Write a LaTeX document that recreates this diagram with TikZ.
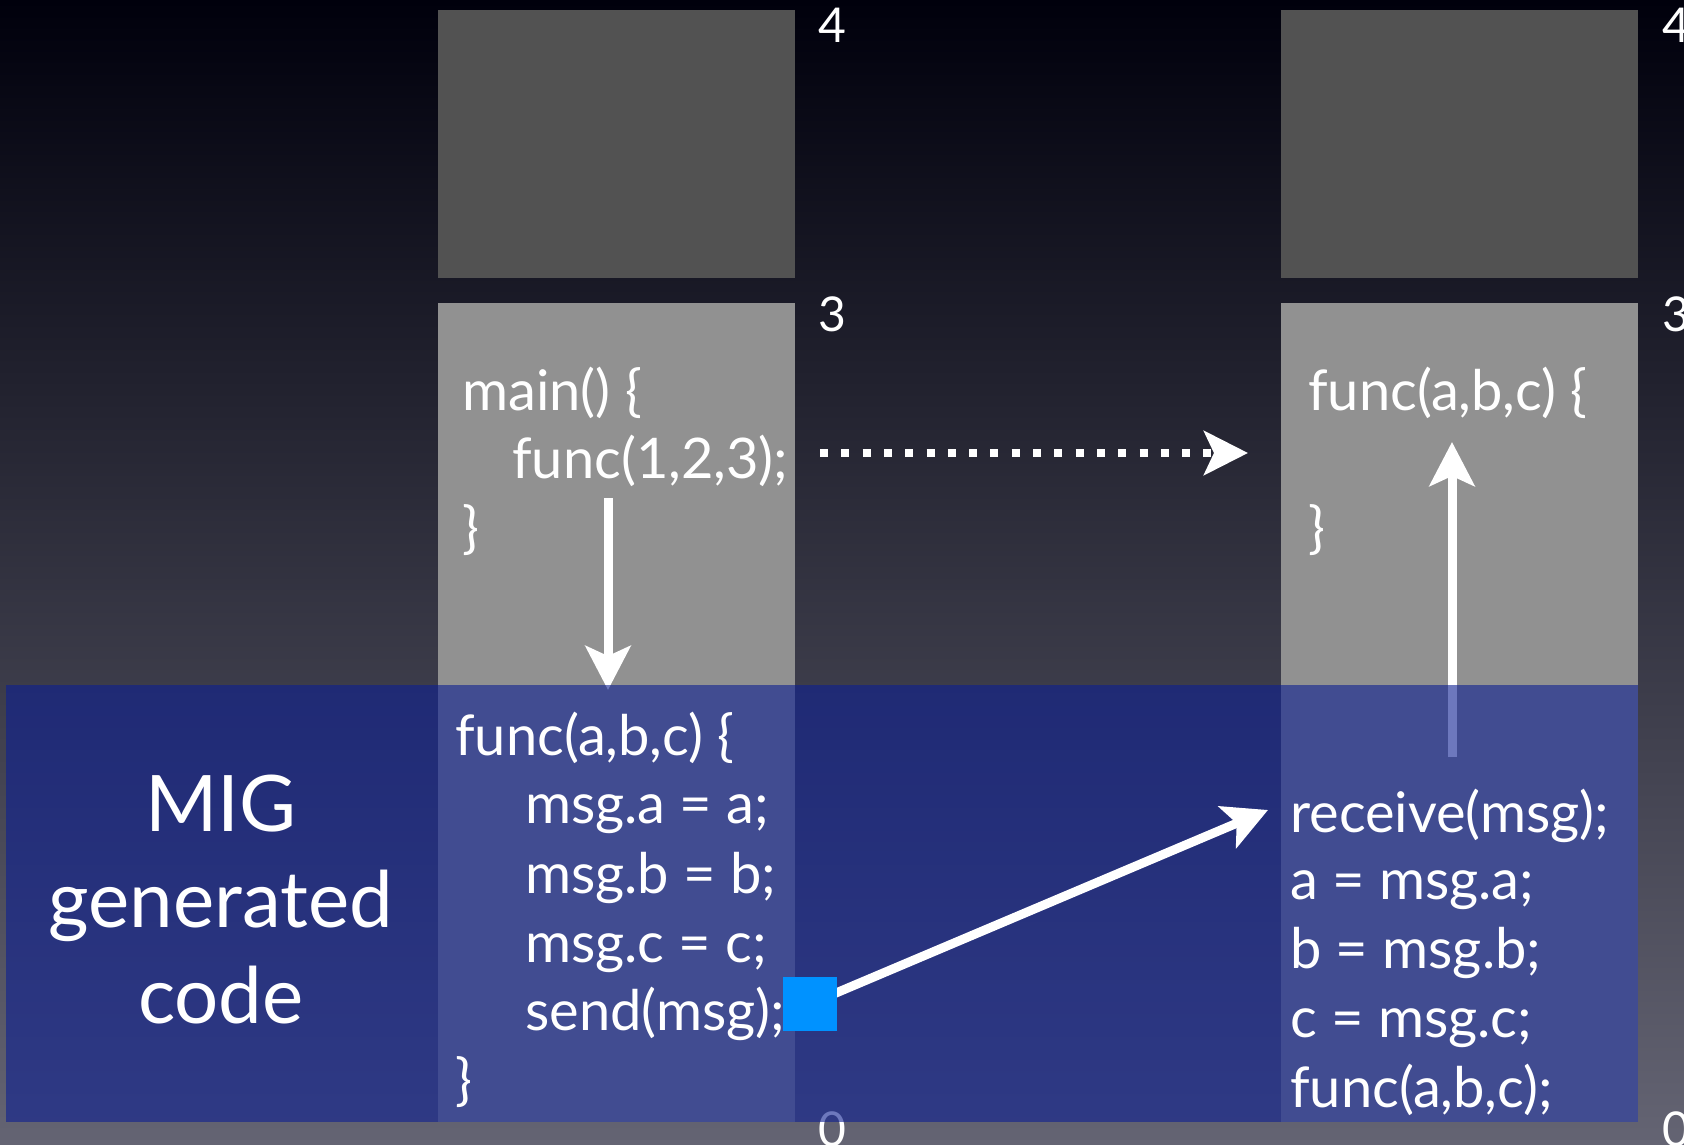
\documentclass[tikz,border=0pt]{standalone}
\usepackage{fontspec}
\setmainfont{Lato}
\usetikzlibrary{arrows.meta}

\definecolor{skytop}{RGB}{0,0,12}
\definecolor{skymid}{RGB}{54,51,86}
\definecolor{skybot}{RGB}{100,100,115}
\definecolor{slotdark}{RGB}{82,82,82}
\definecolor{slotlight}{RGB}{145,145,145}
\definecolor{migblue}{RGB}{13,31,146}
\definecolor{sendsquare}{RGB}{0,146,255}

\tikzset{
  code/.style={anchor=base west, inner sep=0pt, text=white, font=\fontsize{56}{68}\selectfont},
  slotnum/.style={anchor=base west, inner sep=0pt, text=white, font=\fontsize{48}{56}\selectfont},
  flow/.style={white, line width=9pt, -{Stealth[length=44pt, width=45pt, inset=10pt]}},
}

\begin{document}
\begin{tikzpicture}[x=1pt, y=-1pt]
    \def\leftA{438}
    \def\leftB{795}
    \def\rightA{1281}
    \def\rightB{1638}
    \def\bandtop{685}
    \def\bandbot{1122}
    \useasboundingbox (0,0) rectangle (1684,1145);
    % slide background
    \shade[top color=skytop, middle color=skymid, bottom color=skybot] (0,0) rectangle (1684,1145);
    % memory slots, caller and callee
    \foreach \xa/\xb in {\leftA/\leftB, \rightA/\rightB} {
        \fill[slotdark] (\xa,10) rectangle (\xb,278);
        \fill[slotlight] (\xa,303) rectangle (\xb,\bandtop);
        \fill[slotlight] (\xa,\bandtop) rectangle (\xb,\bandbot);
    }
    % slot numbers
    \foreach \nx in {818,1662} {
        \node[slotnum] (four\nx) at (\nx,43) {4};
        \node[slotnum] (three\nx) at (\nx,331) {3};
        \node[slotnum] (zero\nx) at (\nx,1146) {0};
    }
    % call paths under the band
    \coordinate (callout) at (608,498);
    \coordinate (stubin) at (608,690);
    \coordinate (skelout) at (1452,757);
    \coordinate (implin) at (1452,442);
    \draw[flow] (callout) -- (stubin);
    \draw[flow] (skelout) -- (implin);
    % generated code band
    \fill[migblue, opacity=0.6] (6,\bandtop) rectangle (\rightB,\bandbot);
    \node[text=white, align=center, font=\fontsize{78}{96}\selectfont] (miglabel) at (221,900) {MIG\\generated\\code};
    % message link
    \coordinate (recvin) at (1268,810);
    \node[fill=sendsquare, minimum size=54pt, inner sep=0pt] (sendsq) at (810,1004) {};
    \draw[flow] (sendsq.center) -- (recvin);
    \node[fill=sendsquare, minimum size=54pt, inner sep=0pt] at (sendsq) {};
    % what the programmer sees
    \coordinate (rpcout) at (820,453);
    \coordinate (rpcin) at (1248,453);
    \draw[white, line width=8pt, dash pattern=on 8pt off 13.3pt, -{Stealth[length=44pt, width=44pt, inset=10pt]}] (rpcout) -- (rpcin);
    % caller
    \node[code] (mainhead) at (462,410) {main() \{};
    \node[code] (maincall) at (512,478) {func(1,2,3);};
    \node[code] (mainend) at (462,547) {\}};
    % callee
    \node[code] (implhead) at (1308,410) {func(a,b,c) \{};
    \node[code] (implend) at (1308,547) {\}};
    % stub
    \node[code] (stubhead) at (455,755) {func(a,b,c) \{};
    \foreach \yy/\txt in {823/{msg.a = a;}, 893/{msg.b = b;}, 962/{msg.c = c;}, 1030/{send(msg);}}
        \node[code] at (525,\yy) {\txt};
    \node[code] (stubend) at (455,1099) {\}};
    % skeleton
    \foreach \yy/\txt in {832/{receive(msg);}, 899/{a = msg.a;}, 968/{b = msg.b;}, 1037/{c = msg.c;}, 1107/{func(a,b,c);}}
        \node[code] at (1290,\yy) {\txt};
\end{tikzpicture}
\end{document}
